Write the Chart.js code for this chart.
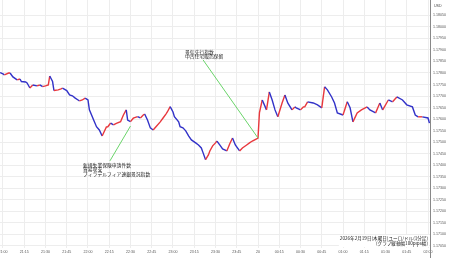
<!DOCTYPE html>
<html>
<head>
<meta charset="utf-8">
<script src="https://cdn.jsdelivr.net/npm/chart.js@4.4.1/dist/chart.umd.min.js"></script>
<style>
  html, body { margin: 0; padding: 0; background: #fff; }
  #caixa { width: 450px; height: 258px; }
</style>
</head>
<body>
<div id="caixa"><canvas id="grafico"></canvas></div>
<script>
// minutos contados a partir das 21:00 (dia 19)
const minutos = [-2, 0, 1, 4, 5, 7, 10, 12, 13, 16, 17, 19, 21, 24, 26, 28, 30, 32, 33, 35,
  36, 39, 41, 42, 45, 47, 49, 51, 53, 54, 56, 58, 60, 61, 64, 66, 68, 70, 71, 73,
  74, 76, 78, 80, 83, 85, 87, 88, 90, 92, 95, 97, 99, 100, 102, 104, 106, 108, 111, 113,
  115, 116, 118, 120, 121, 124, 125, 127, 129, 131, 133, 136, 138, 140, 141, 143, 145, 146, 148, 150,
  151, 153, 155, 158, 160, 162, 164, 167, 169, 172, 174, 176, 179, 180, 181, 183, 186, 188, 190, 192,
  194, 197, 199, 201, 204, 206, 207, 210, 212, 213, 215, 219, 222, 225, 227, 229, 232, 234, 236, 240,
  243, 245, 247, 250, 253, 257, 259, 263, 266, 268, 272, 275, 278, 282, 285, 289, 291, 293, 296, 300, 301];

// ユーロドル
const precos = [1.17802, 1.17796, 1.17792, 1.17800, 1.17800, 1.17783, 1.17770, 1.17774, 1.17763, 1.17761,
  1.17757, 1.17735, 1.17748, 1.17744, 1.17748, 1.17741, 1.17744, 1.17748, 1.17787, 1.17763,
  1.17724, 1.17727, 1.17731, 1.17734, 1.17724, 1.17705, 1.17701, 1.17691, 1.17683, 1.17679,
  1.17683, 1.17691, 1.17683, 1.17640, 1.17596, 1.17567, 1.17553, 1.17527, 1.17540, 1.17566,
  1.17567, 1.17583, 1.17575, 1.17582, 1.17589, 1.17618, 1.17640, 1.17596, 1.17589, 1.17604,
  1.17611, 1.17605, 1.17618, 1.17622, 1.17596, 1.17562, 1.17553, 1.17567, 1.17588, 1.17605,
  1.17622, 1.17631, 1.17654, 1.17631, 1.17611, 1.17588, 1.17567, 1.17562, 1.17549, 1.17527,
  1.17510, 1.17497, 1.17488, 1.17475, 1.17458, 1.17424, 1.17445, 1.17462, 1.17484, 1.17497,
  1.17505, 1.17488, 1.17471, 1.17462, 1.17492, 1.17518, 1.17488, 1.17462, 1.17475, 1.17488,
  1.17497, 1.17505, 1.17514, 1.17518, 1.17627, 1.17683, 1.17640, 1.17718, 1.17683, 1.17640,
  1.17610, 1.17670, 1.17705, 1.17670, 1.17640, 1.17653, 1.17649, 1.17640, 1.17653, 1.17653,
  1.17675, 1.17670, 1.17662, 1.17649, 1.17740, 1.17727, 1.17696, 1.17670, 1.17627, 1.17618,
  1.17675, 1.17649, 1.17588, 1.17627, 1.17640, 1.17653, 1.17640, 1.17627, 1.17670, 1.17640,
  1.17683, 1.17675, 1.17696, 1.17683, 1.17662, 1.17653, 1.17618, 1.17610, 1.17610, 1.17605, 1.17583];

const ticksX = [0, 15, 30, 45, 60, 75, 90, 105, 120, 135, 150, 165, 180, 195, 210, 225, 240, 255, 270, 285, 300];
const rotulosX = ['21:00', '21:15', '21:30', '21:45', '22:00', '22:15', '22:30', '22:45', '23:00', '23:15', '23:30',
  '23:45', '20', '00:15', '00:30', '00:45', '01:00', '01:15', '01:30', '01:45', '02:00'];
const ticksY = [1.1705, 1.1710, 1.1715, 1.1720, 1.1725, 1.1730, 1.1735, 1.1740, 1.1745, 1.1750, 1.1755,
  1.1760, 1.1765, 1.1770, 1.1775, 1.1780, 1.1785, 1.1790, 1.1795, 1.1800, 1.1805];

// eventos: ponto no preço -> ponta da linha verde -> texto
const eventoHora = [90, 180];
const eventoPreco = [1.17570, 1.17518];
const pontaHora = [75.5, 141.2];
const pontaPreco = [1.17419, 1.17857];
const textoHora = [56.5, 128.5];
const textoPreco = [1.17401, 1.17891];
const eventoTextos = [
  ['新規失業保険申請件数', '貿易収支', 'フィラデルフィア連銀景況指数'],
  ['景気先行指数', '中古住宅販売保留']
];
const notaRodape = ['2026年2月19日(木曜日)ユーロ/ドル(1分足)', '(グラフ縦軸幅100pips幅)'];

const vermelho = '#e8383d';
const azul = '#3232c8';

const notas = {
  id: 'notas',
  afterDatasetsDraw(chart) {
    const { ctx, chartArea, scales: { x, y } } = chart;
    ctx.save();
    ctx.lineWidth = 1;
    ctx.strokeStyle = '#6ad46a';
    ctx.fillStyle = '#222';
    ctx.font = '4.8px "Noto Sans CJK JP"';
    ctx.textBaseline = 'middle';
    eventoHora.forEach((h, i) => {
      ctx.beginPath();
      ctx.moveTo(x.getPixelForValue(h), y.getPixelForValue(eventoPreco[i]));
      ctx.lineTo(x.getPixelForValue(pontaHora[i]), y.getPixelForValue(pontaPreco[i]));
      ctx.stroke();
      const tx = x.getPixelForValue(textoHora[i]);
      const ty = y.getPixelForValue(textoPreco[i]);
      eventoTextos[i].forEach((t, k) => ctx.fillText(t, tx, ty + k * 4.6));
    });

    // nota no canto inferior direito
    ctx.font = '4.6px "Noto Sans CJK JP"';
    ctx.textAlign = 'right';
    const dir = chartArea.right - 2;
    const w = Math.max(...notaRodape.map(t => ctx.measureText(t).width));
    ctx.fillStyle = '#fff';
    ctx.fillRect(dir - w - 1, chartArea.bottom - 13, w + 2, 12);
    ctx.fillStyle = '#222';
    notaRodape.forEach((t, k) => ctx.fillText(t, dir, chartArea.bottom - 10 + k * 5.4));

    // eixo direito desce até o fim da imagem
    ctx.strokeStyle = '#888';
    ctx.beginPath();
    ctx.moveTo(chartArea.right + 0.5, chartArea.bottom);
    ctx.lineTo(chartArea.right + 0.5, chart.height);
    ctx.stroke();

    // moeda no topo do eixo
    ctx.textAlign = 'left';
    ctx.fillStyle = '#444';
    ctx.font = '3.6px "Liberation Sans"';
    ctx.fillText('USD', chartArea.right + 4, 6);
    ctx.restore();
  }
};

new Chart(document.getElementById('grafico'), {
  type: 'line',
  data: {
    datasets: [{
      data: minutos.map((m, i) => ({ x: m, y: precos[i] })),
      borderWidth: 1.4,
      pointRadius: 0,
      tension: 0,
      segment: {
        borderColor: c => c.p1.parsed.y >= c.p0.parsed.y ? vermelho : azul
      }
    }]
  },
  options: {
    animation: false,
    responsive: true,
    maintainAspectRatio: false,
    layout: { padding: 0 },
    plugins: { legend: { display: false }, tooltip: { enabled: false } },
    scales: {
      x: {
        type: 'linear',
        min: -2.1,
        max: 301.4,
        afterBuildTicks: s => { s.ticks = ticksX.map(v => ({ value: v })); },
        afterFit: s => { s.height = 10; s.paddingLeft = 0; s.paddingRight = 0; },
        grid: { color: '#ededed', drawTicks: false },
        border: { display: false },
        ticks: {
          padding: 2,
          maxRotation: 0,
          autoSkip: false,
          color: '#555',
          font: { family: 'Liberation Sans', size: 3.6 },
          callback: (v, i) => rotulosX[i]
        }
      },
      y: {
        position: 'right',
        min: 1.170413,
        max: 1.181164,
        afterBuildTicks: s => { s.ticks = ticksY.map(v => ({ value: v })); },
        afterFit: s => { s.width = 20; s.paddingTop = 0; s.paddingBottom = 0; },
        grid: { color: '#ededed', drawTicks: false },
        border: { display: true, color: '#888', width: 1 },
        ticks: {
          padding: 3,
          autoSkip: false,
          color: '#555',
          font: { family: 'Liberation Sans', size: 3.6 },
          callback: v => v.toFixed(5)
        }
      }
    }
  },
  plugins: [notas]
});
</script>
</body>
</html>
